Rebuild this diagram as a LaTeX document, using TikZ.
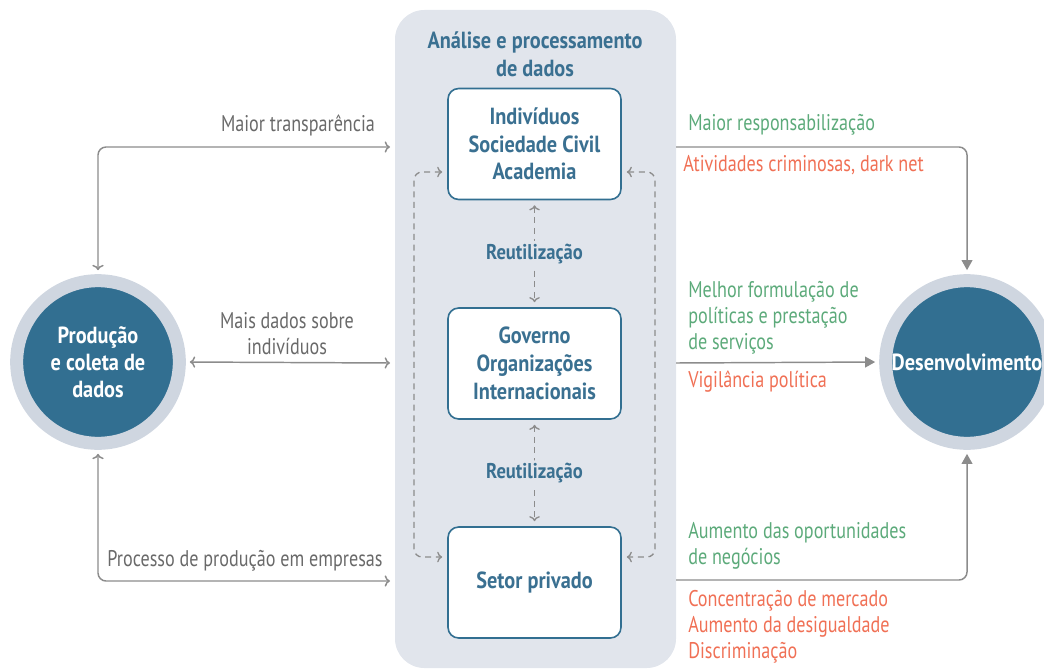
\documentclass[tikz,border=0pt]{standalone}
\usepackage{fontspec}
\setmainfont{PT Sans}[FakeStretch=0.8]
\newfontfamily\headfont{PT Sans}[FakeStretch=0.87]
\usetikzlibrary{arrows.meta,calc}

\definecolor{panelgray}{RGB}{225,229,236}
\definecolor{ringgray}{RGB}{207,214,224}
\definecolor{darkteal}{RGB}{50,111,145}
\definecolor{tealtext}{RGB}{58,112,145}
\definecolor{linegray}{RGB}{140,140,140}
\definecolor{textgray}{RGB}{105,105,105}
\definecolor{goodgreen}{RGB}{92,170,122}
\definecolor{badred}{RGB}{240,112,85}

\tikzset{
  every node/.style={font=\fontsize{17}{19.5}\selectfont},
  hub/.style={circle, fill=darkteal, draw=ringgray, line width=9.75pt, minimum size=122pt,
    inner sep=0pt, align=center, text=white, font=\headfont\bfseries\fontsize{17.5}{20.3}\selectfont},
  panel/.style={rectangle, fill=panelgray, rounded corners=22pt, minimum width=210.75pt, minimum height=493.5pt},
  box/.style={rectangle, rounded corners=8pt, draw=darkteal, line width=1.2pt, fill=white,
    minimum width=129.75pt, minimum height=83.25pt, align=center, text=tealtext,
    font=\headfont\bfseries\fontsize{17.5}{20.8}\selectfont},
  conn/.style={draw=linegray, line width=1.1pt, rounded corners=6pt, arrows={-Triangle[length=7.5pt,width=8pt]}},
  reuse/.style={draw=linegray, line width=1pt, dash pattern=on 4.5pt off 3.5pt, rounded corners=6pt,
    arrows={-Triangle[length=6pt,width=6.5pt]}, shorten <=3.75pt, shorten >=3.75pt},
  reulabel/.style={fill=panelgray, inner sep=2pt, text=tealtext, font=\headfont\bfseries\fontsize{16}{19.5}\selectfont},
  graytext/.style={inner sep=0pt, text=textgray, align=center},
  good/.style={inner sep=0pt, text=goodgreen, anchor=west, align=left},
  bad/.style={inner sep=0pt, text=badred, anchor=west, align=left}
}

\begin{document}
\begin{tikzpicture}[x=0.75pt,y=0.75pt,yscale=-1,xscale=1]
\useasboundingbox (0,0) rectangle (1044,670);

%Panel
\node[panel] (panel) at (535.5,339) {};
\node[text=tealtext, align=center, font=\headfont\bfseries\fontsize{17.5}{21}\selectfont] (ttl) at (535,54) {Análise e processamento\\de dados};

%Boxes
\node[box] (ind) at (534.5,144) {Indivíduos\\Sociedade Civil\\Academia};
\node[box] (gov) at (534.5,363.5) {Governo\\Organizações\\Internacionais};
\node[box] (priv) at (534.5,582.5) {Setor privado};

%Circles
\node[hub] (prod) at (98,362) {Produção\\e coleta de\\dados};
\node[hub] (dev) at (967,362) {Desenvolvimento};

%Reuse
\draw[reuse,<->] (ind.south) -- node[reulabel] (reu1) {Reutilização} (gov.north);
\draw[reuse,<->] (gov.south) -- node[reulabel] (reu2) {Reutilização} (priv.north);
\draw[reuse,<->] ($(ind.west)+(0,28)$) -- (414,172) -- (414,557) -- ($(priv.west)+(0,-25.5)$);
\draw[reuse,<->] ($(ind.east)+(0,28)$) -- (655,172) -- (655,557) -- ($(priv.east)+(0,-25.5)$);

%Free ends at the panel
\coordinate (inTop) at (390,147);
\coordinate (inMid) at (390,363);
\coordinate (inBot) at (390,581);
\coordinate (outTop) at (676,147);
\coordinate (outMid) at (676,363);
\coordinate (outBot) at (676,580);

%Left connectors
\draw[conn,<->,shorten <=3pt] (prod.north) |- (inTop);
\draw[conn,<->,shorten <=3pt] (prod.east) -- (inMid);
\draw[conn,<->,shorten <=3pt] (prod.south) |- (inBot);

%Right connectors
\draw[conn,shorten >=3pt] (outTop) -| (dev.north);
\draw[conn,shorten >=3pt] (outMid) -- (dev.west);
\draw[conn,shorten >=3pt] (outBot) -| (dev.south);

%Labels left
\node[graytext] (lbTop) at (298,125) {Maior transparência};
\node[graytext] (lbMid) at (287,334) {Mais dados sobre\\indivíduos};
\node[graytext] (lbBot) at (245,561) {Processo de produção em empresas};

%Labels right
\node[good] (gdTop) at (688,125) {Maior responsabilização};
\node[bad] (bdTop) at (683,165) {Atividades criminosas, dark net};
\node[good] (gdMid) at (688,318) {Melhor formulação de\\políticas e prestação\\de serviços};
\node[bad] (bdMid) at (688,382) {Vigilância política};
\node[good] (gdBot) at (688,546) {Aumento das oportunidades\\de negócios};
\node[bad] (bdBot) at (688,627) {Concentração de mercado\\Aumento da desigualdade\\Discriminação};

\end{tikzpicture}
\end{document}
